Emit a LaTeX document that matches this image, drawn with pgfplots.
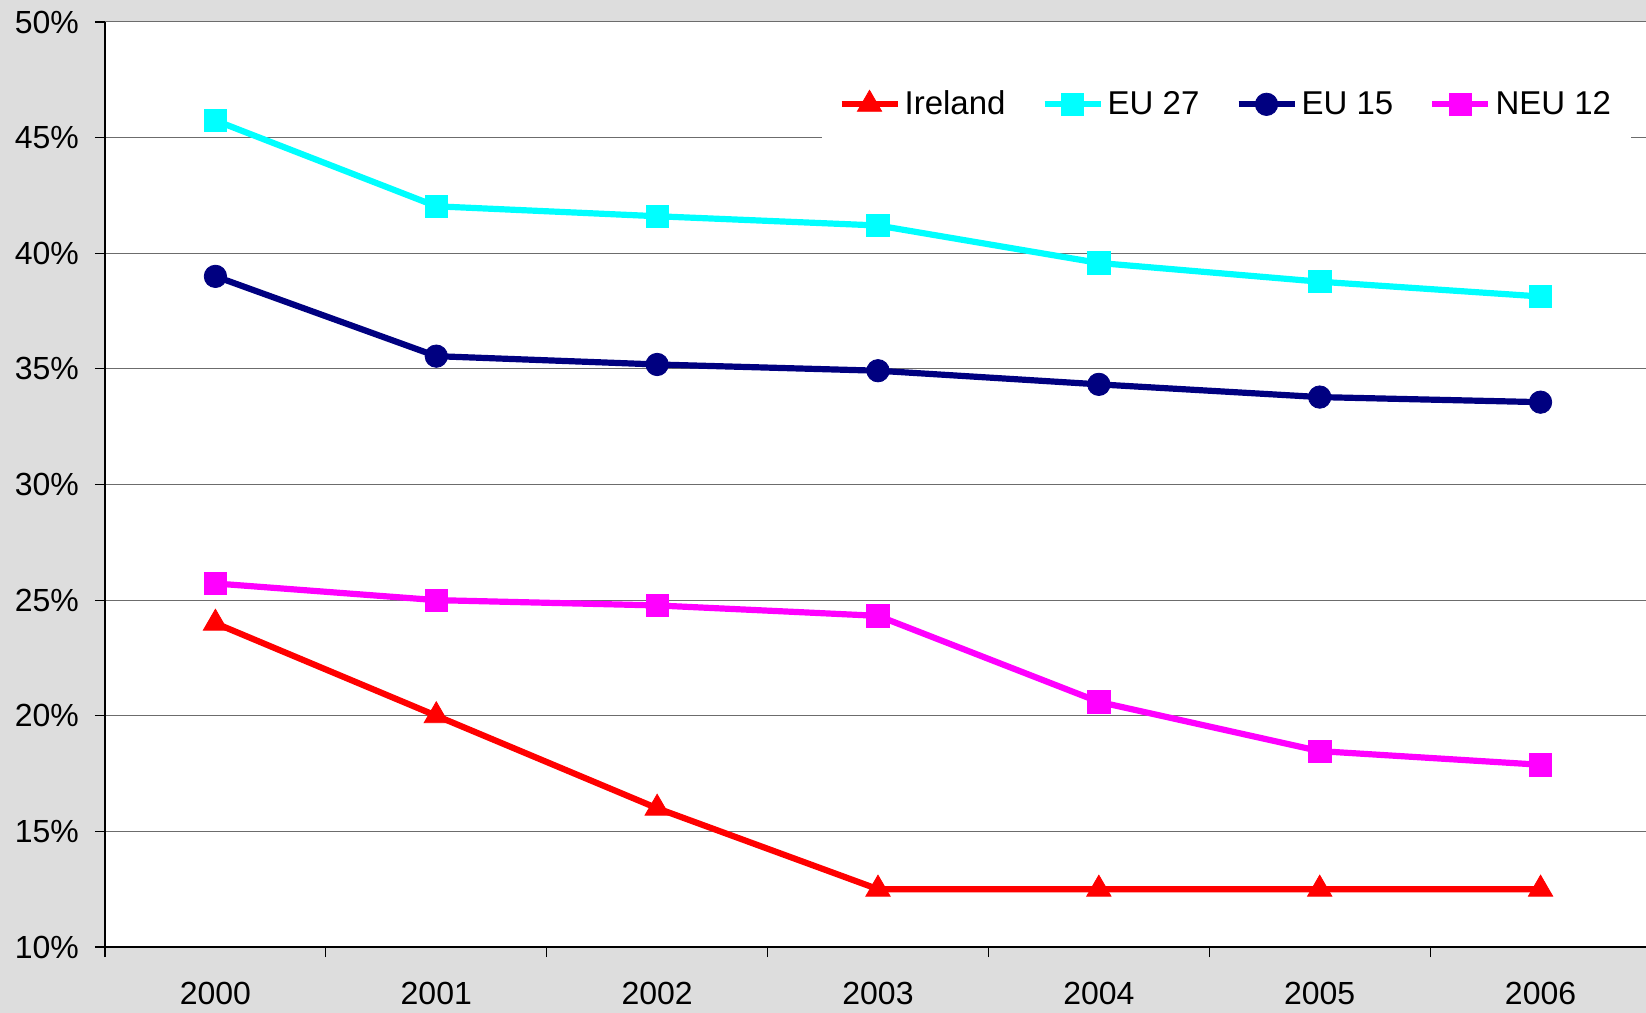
\documentclass[border=0pt]{standalone}
\usepackage{pgfplots}
\pgfplotsset{compat=1.18}
\usepackage{fontspec}
\setmainfont{Liberation Sans}
\definecolor{bg}{RGB}{221,221,221}
\definecolor{ire}{RGB}{255,0,0}
\definecolor{eut}{RGB}{0,255,255}
\definecolor{euf}{RGB}{0,0,128}
\definecolor{neu}{RGB}{255,0,255}
\begin{document}
\begin{tikzpicture}
\path[fill=bg,use as bounding box] (-52.5pt,-33pt) rectangle (770.5pt,473.5pt);
\begin{axis}[
  at={(0,0)}, anchor=south west,
  scale only axis, width=773pt, height=462.5pt,
  axis background/.style={fill=white},
  xmin=-0.5, xmax=6.5, ymin=10, ymax=50,
  axis x line*=bottom, axis y line*=left,
  axis line style={black, line width=0.8pt},
  xtick={0,...,6},
  xticklabels={2000,2001,2002,2003,2004,2005,2006},
  minor xtick={-0.5,0.5,...,6.5},
  major x tick style={draw=none},
  minor tick length=5pt,
  major tick length=5pt,
  tick align=outside,
  minor x tick style={black, line width=0.6pt},
  ytick={10,15,...,50},
  y tick style={black, line width=0.6pt},
  yticklabel={\pgfmathprintnumber{\tick}\%},
  /pgf/number format/assume math mode=true,
  ymajorgrids, grid style={gray!85!black, line width=0.5pt},
  tick label style={font=\fontsize{16}{18}\selectfont},
  xticklabel style={yshift=-9pt},
  yticklabel style={xshift=-4.5pt},
  legend style={at={(0.7256,0.911)}, anchor=center, draw=none, fill=white,
    legend columns=4, font=\fontsize{16.5}{18}\selectfont,
    /tikz/every even column/.append style={column sep=16pt},
    nodes={inner xsep=2pt},
    inner xsep=8pt, inner ysep=10pt},
  legend image code/.code={
    \draw[#1] (0pt,0pt) -- (28pt,0pt);
    \draw[#1,mark repeat=1] plot coordinates {(14pt,0pt)};
  },
  every axis plot/.append style={line width=3.1pt},
]
\addplot[color=ire, mark=triangle*, mark size=7pt, mark options={solid, line width=0.4pt}]
  coordinates {(0,24.0) (1,20.0) (2,16.0) (3,12.5) (4,12.5) (5,12.5) (6,12.5)};
\addlegendentry{Ireland}
\addplot[color=eut, mark=square*, mark size=5.6pt, mark options={solid, line width=0.4pt}]
  coordinates {(0,45.74) (1,42.03) (2,41.6) (3,41.2) (4,39.58) (5,38.77) (6,38.13)};
\addlegendentry{EU 27}
\addplot[color=euf, mark=*, mark size=5.6pt, mark options={solid, line width=0.4pt}]
  coordinates {(0,39.0) (1,35.55) (2,35.19) (3,34.92) (4,34.33) (5,33.78) (6,33.56)};
\addlegendentry{EU 15}
\addplot[color=neu, mark=square*, mark size=5.6pt, mark options={solid, line width=0.4pt}]
  coordinates {(0,25.72) (1,25.0) (2,24.77) (3,24.32) (4,20.6) (5,18.47) (6,17.88)};
\addlegendentry{NEU 12}
\end{axis}
\end{tikzpicture}
\end{document}
